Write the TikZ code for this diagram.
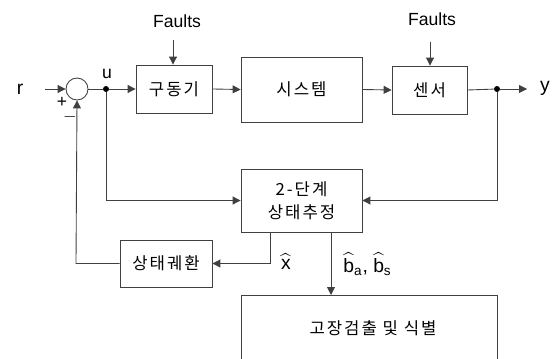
\documentclass[tikz,border=0pt]{standalone}
\usepackage{fontspec}
\usepackage{amsmath}
\setmainfont{Liberation Sans}
\newfontfamily\kr[LetterSpace=12]{Noto Sans CJK KR}
\usetikzlibrary{arrows.meta}
\tikzset{
  wire/.style={draw=black!75, line width=0.5pt},
  arr/.style={wire, -{Triangle[length=4.5pt,width=4.5pt]}},
  blk/.style={draw=black!75, line width=0.5pt, inner sep=0pt, font=\kr\fontsize{9.5}{13}\selectfont, align=center},
  ktxt/.style={inner sep=0pt, font=\kr\fontsize{9.5}{13}\selectfont},
  lbl/.style={inner sep=0pt, font=\fontsize{10}{12}\selectfont},
  dotnode/.style={circle, fill=black, inner sep=0pt, minimum size=0.12cm},
}
\begin{document}
\begin{tikzpicture}[x=0.02cm, y=-0.02cm]
\useasboundingbox (0,0) rectangle (553,358);
\clip (0,0) rectangle (553,358);
% signal labels
\node[lbl, font=\fontsize{11}{13}\selectfont] (r) at (20,89) {r};
\node[lbl, font=\fontsize{11}{13}\selectfont] (y) at (545,88) {y};
\node[lbl] (u) at (107,74) {u};
\node[lbl] (f1) at (177,21) {Faults};
\node[lbl] (f2) at (432,19) {Faults};
% summing junction and taps
\node[circle, wire, minimum size=0.44cm, inner sep=0pt] (sum) at (77,89) {};
\node[lbl] (plus) at (62,102) {+};
\node[lbl] (minus) at (70,117) {$-$};
\node[dotnode] (udot) at (106,89) {};
\node[dotnode] (ydot) at (497,89) {};
% blocks
\node[blk, minimum width=1.52cm, minimum height=0.96cm] (act) at (174,89) {구동기};
\node[blk, minimum width=2.42cm, minimum height=1.30cm] (sys) at (301.5,89.5) {시스템};
\node[blk, minimum width=1.50cm, minimum height=0.96cm] (sen) at (429.5,90) {센서};
\node[blk, minimum width=2.42cm, minimum height=1.26cm] (est) at (301.5,200.5) {2-단계\\상태추정};
\node[blk, minimum width=1.84cm, minimum height=0.94cm] (fb) at (166,263.5) {상태궤환};
\node[blk, minimum width=5.12cm, minimum height=1.60cm, anchor=north] (fd) at (369,295) {};
\node[ktxt] (fdtxt) at (373,328) {고장검출 및 식별};
% end points and corners of the routed lines
\coordinate (rstart) at (45,89);
\coordinate (yend) at (527,89);
\coordinate (f1start) at (173,40);
\coordinate (f2start) at (430,42);
\coordinate (ucorner) at (106,200.5);
\coordinate (ycorner) at (497,200.5);
\coordinate (xtap) at (270,232);
\coordinate (xcorner) at (270,263.5);
\coordinate (fbcorner) at (76,263.5);
\coordinate (btap) at (331,232);
% forward path
\draw[arr] (rstart) -- (sum.west);
\draw[wire] (sum.east) -- (udot);
\draw[arr] (udot) -- (act.west);
\draw[arr] (act.east) -- (sys.west);
\draw[arr] (sys.east) -- (sen.west);
\draw[wire] (sen.east) -- (ydot);
\draw[arr] (ydot) -- (yend);
% fault inputs
\draw[arr] (f1start) -- (f1start |- act.north);
\draw[arr] (f2start) -- (f2start |- sen.north);
% estimator inputs
\draw[arr] (udot) -- (ucorner) -- (est.west);
\draw[arr] (ydot) -- (ycorner) -- (est.east);
% state feedback loop
\draw[wire] (xtap) -- (xcorner);
\draw[arr] (xcorner) -- (fb.east);
\draw[arr] (fb.west) -- (fbcorner) -- (sum.south);
% bias estimates to fault detection
\draw[arr] (btap) -- (fd.north -| btap);
\node[lbl, font=\fontsize{11}{13}\selectfont] (xhat) at (286,262) {$\widehat{\text{x}}$};
\node[lbl, font=\fontsize{11}{13}\selectfont, anchor=west] (bhat) at (343,264) {$\widehat{\text{b}}_{\text{a}}$, $\widehat{\text{b}}_{\text{s}}$};
\end{tikzpicture}
\end{document}
